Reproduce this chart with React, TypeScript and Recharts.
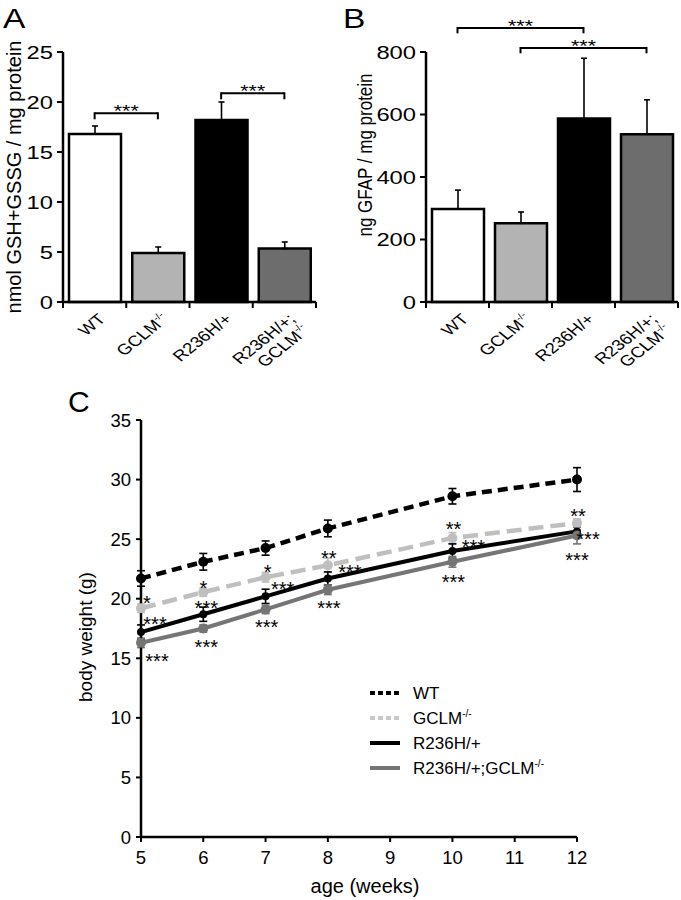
import React from 'react';
import {
  BarChart, Bar, Cell, XAxis, YAxis, ErrorBar, ReferenceLine,
  LineChart, Line, LabelList, Legend,
} from 'recharts';

const FONT = "'Liberation Sans', Arial, Helvetica, sans-serif";
const STRETCH = 1.25;

// ---------- Panel A / B data ----------
const groups = ['WT', 'GCLM-/-', 'R236H/+', 'R236H/+;GCLM-/-'];
const gshMeans = [16.8, 4.9, 18.2, 5.35];
const gshSem = [0.8, 0.6, 1.8, 0.65];
const gshTicks = [0, 5, 10, 15, 20, 25];
const gfapMeans = [298, 252, 587, 537];
const gfapSem = [60, 36, 193, 110];
const gfapTicks = [0, 200, 400, 600, 800];

const gshBrackets = [
  { from: 'WT', to: 'GCLM-/-', level: 18.87, drop: 0.5, text: '***' },
  { from: 'R236H/+', to: 'R236H/+;GCLM-/-', level: 20.87, drop: 0.5, text: '***' },
];
const gfapBrackets = [
  { from: 'WT', to: 'R236H/+', level: 877, drop: 14, text: '***' },
  { from: 'GCLM-/-', to: 'R236H/+;GCLM-/-', level: 813, drop: 14, text: '***' },
];

// ---------- Panel C data ----------
const ages = [5, 6, 7, 8, 10, 12];
const ageTicks = [5, 6, 7, 8, 9, 10, 11, 12];
const weightTicks = [0, 5, 10, 15, 20, 25, 30, 35];
const seriesNames = ['WT', 'GCLM-/-', 'R236H/+', 'R236H/+;GCLM-/-'];
const wtWeight = [21.7, 23.1, 24.25, 25.9, 28.6, 30.0];
const wtSem = [0.65, 0.7, 0.6, 0.7, 0.65, 1.0];
const gclmWeight = [19.2, 20.55, 21.8, 22.8, 25.1, 26.35];
const gclmSem = [0.35, 0.35, 0.4, 0.6, 0.45, 0.35];
const r236hWeight = [17.2, 18.7, 20.2, 21.7, 24.0, 25.65];
const r236hSem = [0.6, 0.6, 0.6, 0.55, 0.6, 0.5];
const dkoWeight = [16.3, 17.5, 19.1, 20.75, 23.1, 25.3];
const dkoSem = [0.4, 0.3, 0.35, 0.4, 0.45, 0.7];
const gclmSig = ['*', '*', '*', '**', '**', '**'];
const r236hSig = ['***', '***', '***', '***', '***', '***'];
const dkoSig = ['***', '***', '***', '***', '***', '***'];

// ---------- styles ----------
const BAR_FILLS = ['#ffffff', '#b3b3b3', '#000000', '#6d6d6d'];
const SERIES_STYLE = [
  { color: '#000000', width: 4.5, dash: '10 6', r: 5, legendColor: '#000000', legendDash: '5 3' },
  { color: '#bfbfbf', width: 4.5, dash: '15 7', r: 5, legendColor: '#c8c8c8', legendDash: '5 3' },
  { color: '#000000', width: 4, dash: undefined, r: 4, legendColor: '#000000', legendDash: undefined },
  { color: '#757575', width: 4, dash: undefined, r: 5, legendColor: '#757575', legendDash: undefined },
];
// star annotation placement relative to the point (centre of star glyphs)
const STAR_OFFSETS: Record<string, number[][]> = {
  gclm: [[6, -10], [0, -9], [2, -10], [1, -12], [1, -13], [1, -11]],
  r236h: [[14, -12], [3, -11], [17, -12], [22, -11], [21, -8], [11, 3]],
  dko: [[16, 14], [3, 14], [1, 13], [1, 14], [1, 16], [0, 20]],
};

const gshData = groups.map((g, i) => ({ group: g, value: gshMeans[i], err: [0, gshSem[i]] }));
const gfapData = groups.map((g, i) => ({ group: g, value: gfapMeans[i], err: [0, gfapSem[i]] }));
const weightData = ages.map((a, i) => ({
  age: a,
  wt: wtWeight[i], wtErr: wtSem[i],
  gclm: gclmWeight[i], gclmErr: gclmSem[i], gclmSig: gclmSig[i],
  r236h: r236hWeight[i], r236hErr: r236hSem[i], r236hSig: r236hSig[i],
  dko: dkoWeight[i], dkoErr: dkoSem[i], dkoSig: dkoSig[i],
}));

function renderSup(text: string, fs: number) {
  if (text.endsWith('-/-')) {
    return [
      <tspan key="b">{text.slice(0, -3)}</tspan>,
      <tspan key="s" dy={-fs * 0.42} fontSize={fs * 0.6}>-/-</tspan>,
    ];
  }
  return text;
}

function StretchYTick(props: any) {
  const { x, y, payload } = props;
  return (
    <text transform={`translate(${x},${y}) scale(${STRETCH},1)`} textAnchor="end" dy="0.36em"
      fontSize={19} fontFamily={FONT} fill="#000">{payload.value}</text>
  );
}

function GroupTick(props: any) {
  const { x, y, payload } = props;
  const half = payload && typeof payload.offset === 'number' && payload.offset > 0 ? payload.offset : 31.6;
  const value = String(payload.value);
  const semi = value.indexOf(';');
  const lines = semi >= 0 ? [value.slice(0, semi + 1), value.slice(semi + 1)] : [value];
  const isLast = value === groups[groups.length - 1];
  const ax = x + 12;
  const ay = y + 18;
  return (
    <g>
      <line x1={x - half} x2={x - half} y1={y} y2={y + 6} stroke="#000" strokeWidth={2} />
      {isLast && <line x1={x + half} x2={x + half} y1={y} y2={y + 6} stroke="#000" strokeWidth={2} />}
      {lines.map((ln, i) => (
        <text key={i} transform={`translate(${ax},${ay}) scale(${STRETCH},1) rotate(-45)`} x={0} y={i * 16}
          textAnchor="end" fontSize={15} fontFamily={FONT} fill="#000">{renderSup(ln, 15)}</text>
      ))}
    </g>
  );
}

const bracketStars = (text: string) => (props: any) => {
  const vb = props.viewBox;
  if (!vb) return null;
  const cx = vb.x + (vb.width || 0) / 2;
  const starCenter = vb.y - 6;
  return (
    <text transform={`translate(${cx},${starCenter + 0.57 * 17}) scale(${STRETCH},1)`} textAnchor="middle"
      fontSize={17} fontFamily={FONT} fill="#000">{text}</text>
  );
};

const yTitle = (text: string, fs: number, cx: number, dyCenter: number, sx = 1) => (props: any) => {
  const vb = props.viewBox;
  if (!vb) return null;
  const cy = vb.y + vb.height / 2 + dyCenter;
  const bx = cx + 0.26 * fs * sx;
  return (
    <text transform={`translate(${bx},${cy}) scale(${sx},1) rotate(-90)`} textAnchor="middle"
      fontSize={fs} fontFamily={FONT} fill="#000">{text}</text>
  );
};

const xTitle = (props: any) => {
  const vb = props.viewBox;
  if (!vb) return null;
  return (
    <text x={vb.x + vb.width / 2 + 6} y={vb.y + 56} textAnchor="middle" fontSize={20}
      fontFamily={FONT} fill="#000">age (weeks)</text>
  );
};

const makeStarLabel = (series: string) => (props: any) => {
  const vb = props.viewBox || {};
  const px = typeof vb.x === 'number' ? vb.x : props.x;
  const py = typeof vb.y === 'number' ? vb.y : props.y;
  const idx = typeof props.index === 'number' ? props.index : 0;
  const text = props.value;
  if (!text || typeof px !== 'number' || typeof py !== 'number') return null;
  const off = STAR_OFFSETS[series][idx] || [0, -11];
  return (
    <text x={px + off[0]} y={py + off[1] + 11.4} textAnchor="middle" fontSize={20}
      fontFamily={FONT} fill="#000">{text}</text>
  );
};

function BarPanel({ data, ticks, yMax, brackets, title, titleFs, titleX, titleDy, titleSx, width, right, yWidth }: any) {
  return (
    <BarChart width={width} height={380} data={data} margin={{ top: 52, right, bottom: 0, left: 0 }}>
      <XAxis dataKey="group" height={78} tickSize={0} tickMargin={0} tickLine={false} interval={0}
        axisLine={{ stroke: '#000', strokeWidth: 2.5 }} tick={(p: any) => <GroupTick {...p} />} />
      <YAxis domain={[0, yMax]} ticks={ticks} width={yWidth} tickSize={6} tickMargin={4} interval={0}
        axisLine={{ stroke: '#000', strokeWidth: 2.5 }} tickLine={{ stroke: '#000', strokeWidth: 2 }}
        tick={(p: any) => <StretchYTick {...p} />}
        label={yTitle(title, titleFs, titleX, titleDy, titleSx)} />
      <Bar dataKey="value" barSize={52} stroke="#000" strokeWidth={2.5} isAnimationActive={false}>
        {data.map((d: any, i: number) => <Cell key={d.group} fill={BAR_FILLS[i]} />)}
        <ErrorBar dataKey="err" width={3} strokeWidth={1.6} stroke="#000" direction="y" />
      </Bar>
      {brackets.flatMap((b: any, i: number) => [
        <ReferenceLine key={`h${i}`} segment={[{ x: b.from, y: b.level }, { x: b.to, y: b.level }]}
          stroke="#000" strokeWidth={2} ifOverflow="visible" label={bracketStars(b.text)} />,
        <ReferenceLine key={`l${i}`} segment={[{ x: b.from, y: b.level }, { x: b.from, y: b.level - b.drop }]}
          stroke="#000" strokeWidth={2} strokeLinecap="square" ifOverflow="visible" />,
        <ReferenceLine key={`r${i}`} segment={[{ x: b.to, y: b.level }, { x: b.to, y: b.level - b.drop }]}
          stroke="#000" strokeWidth={2} strokeLinecap="square" ifOverflow="visible" />,
      ])}
    </BarChart>
  );
}

const renderLegend = () => (
  <svg width={260} height={100} style={{ overflow: 'visible' }}>
    {seriesNames.map((name, i) => {
      const cy = 12 + i * 25;
      const st = SERIES_STYLE[i];
      return (
        <g key={name}>
          <line x1={0} x2={30} y1={cy} y2={cy} stroke={st.legendColor}
            strokeWidth={4} strokeDasharray={st.legendDash} />
          <text x={43} y={cy + 6} fontSize={17} fontFamily={FONT} fill="#000">{renderSup(name, 17)}</text>
        </g>
      );
    })}
  </svg>
);

const seriesKeys = ['wt', 'gclm', 'r236h', 'dko'];

export default function App() {
  return (
    <div style={{ position: 'absolute', left: 0, top: 0, width: 681, height: 900, background: '#fff' }}>
      <div style={{ position: 'absolute', left: 0, top: 0 }}>
        <BarPanel data={gshData} ticks={gshTicks} yMax={25} brackets={gshBrackets}
          title="nmol GSH+GSSG / mg protein" titleFs={20} titleX={16} titleDy={0} titleSx={1}
          width={340} right={24} yWidth={63} />
      </div>
      <div style={{ position: 'absolute', left: 340, top: 0 }}>
        <BarPanel data={gfapData} ticks={gfapTicks} yMax={800} brackets={gfapBrackets}
          title="ng GFAP / mg protein" titleFs={17} titleX={27} titleDy={-22} titleSx={1.2}
          width={341} right={3} yWidth={86} />
      </div>
      <div style={{ position: 'absolute', left: 0, top: 380 }}>
        <LineChart width={681} height={520} data={weightData} margin={{ top: 40, right: 104, bottom: 0, left: 0 }}>
          <XAxis dataKey="age" type="number" domain={[5, 12]} ticks={ageTicks} interval={0} height={63}
            tickSize={5} tickMargin={9} axisLine={{ stroke: '#000', strokeWidth: 2.5 }}
            tickLine={{ stroke: '#000', strokeWidth: 2 }}
            tick={{ fontSize: 18.5, fill: '#000', fontFamily: FONT }} label={xTitle} />
          <YAxis domain={[0, 35]} ticks={weightTicks} interval={0} width={141} tickSize={5} tickMargin={5}
            axisLine={{ stroke: '#000', strokeWidth: 2.5 }} tickLine={{ stroke: '#000', strokeWidth: 2 }}
            tick={{ fontSize: 18.5, fill: '#000', fontFamily: FONT }}
            label={yTitle('body weight (g)', 19, 87, 8.5)} />
          {seriesKeys.map((k, i) => {
            const st = SERIES_STYLE[i];
            return (
              <Line key={k} dataKey={k} name={seriesNames[i]} type="linear" stroke={st.color} strokeWidth={st.width}
                strokeDasharray={st.dash} dot={{ r: st.r, fill: st.color, stroke: 'none', strokeWidth: 0 }}
                activeDot={false} isAnimationActive={false}>
                <ErrorBar dataKey={`${k}Err`} width={4} strokeWidth={1.6} stroke={st.color} direction="y" />
                {k !== 'wt' && <LabelList dataKey={`${k}Sig`} content={makeStarLabel(k)} />}
              </Line>
            );
          })}
          <Legend layout="vertical" align="center" verticalAlign="middle" content={renderLegend}
            wrapperStyle={{ position: 'absolute', left: 370, top: 301, width: 260, height: 100 }} />
        </LineChart>
      </div>
      <svg width={681} height={900} style={{ position: 'absolute', left: 0, top: 0, pointerEvents: 'none' }}>
        <text transform="translate(3,28) scale(1.2,1)" fontSize={28} fontFamily={FONT} fill="#000">A</text>
        <text transform="translate(343,28) scale(1.2,1)" fontSize={28} fontFamily={FONT} fill="#000">B</text>
        <text x={68} y={412} fontSize={30} fontFamily={FONT} fill="#000">C</text>
      </svg>
    </div>
  );
}
